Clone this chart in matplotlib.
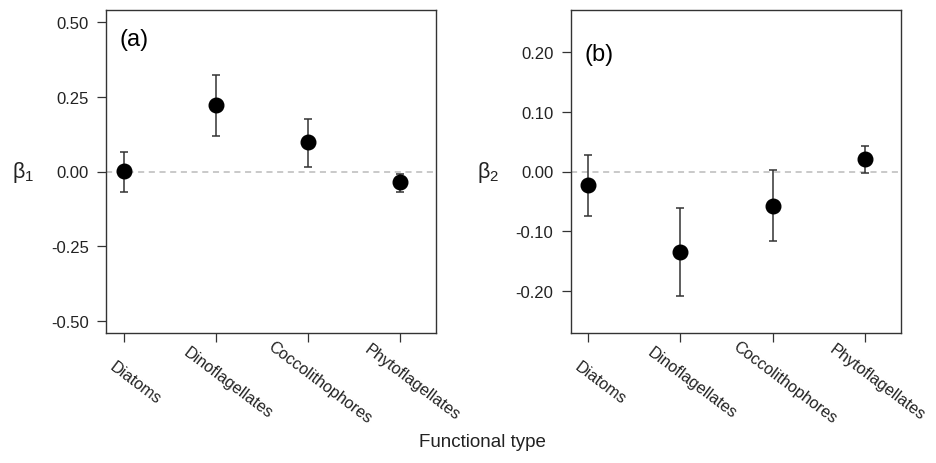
import matplotlib
matplotlib.use("Agg")
import matplotlib.pyplot as plt
import matplotlib.transforms as mtransforms

plt.rcParams['font.family'] = ['Liberation Sans', 'DejaVu Sans']
plt.rcParams['mathtext.fontset'] = 'custom'
plt.rcParams['mathtext.rm'] = 'Liberation Sans'
plt.rcParams['mathtext.it'] = 'Liberation Sans'

# Data
types = ["Diatoms", "Dinoflagellates", "Coccolithophores", "Phytoflagellates"]

beta1 = [0.001, 0.222, 0.097, -0.034]
beta1_low = [-0.070, 0.119, 0.015, -0.070]
beta1_high = [0.066, 0.323, 0.177, -0.010]

beta2 = [-0.023, -0.134, -0.057, 0.021]
beta2_low = [-0.075, -0.208, -0.117, -0.003]
beta2_high = [0.028, -0.061, 0.002, 0.042]

y1_ticks = [-0.50, -0.25, 0.00, 0.25, 0.50]
y2_ticks = [-0.20, -0.10, 0.00, 0.10, 0.20]

edge = '#333333'


def draw_panel(ax, est, low, high, yticks, ylim, ylab, tag, tag_y):
    x = list(range(1, len(types) + 1))
    ax.axhline(0, color='#bbbbbb', lw=1.1, ls=(0, (4, 3)), zorder=1)
    yerr = [[e - l for e, l in zip(est, low)], [h - e for e, h in zip(est, high)]]
    ax.errorbar(x, est, yerr=yerr, fmt='o', color='black', ms=10.5,
                ecolor=edge, elinewidth=1.1, capsize=3, capthick=1.1, zorder=3)
    ax.set_xlim(0.81, 4.39)
    ax.set_ylim(*ylim)
    ax.set_yticks(yticks)
    ax.set_yticklabels([f"{v:.2f}" for v in yticks], fontsize=12, color='#222222')
    ax.set_xticks(x)
    ax.set_xticklabels([])
    ax.tick_params(axis='both', direction='out', length=6.5, width=0.9, color=edge, pad=6)
    for s in ax.spines.values():
        s.set_color(edge)
        s.set_linewidth(1.0)
    # rotated category labels
    tr = mtransforms.offset_copy(ax.get_xaxis_transform(), fig=ax.figure, x=12, y=0, units='dots')
    for xi, name in zip(x, types):
        ax.text(xi, -0.152, name, transform=tr, rotation=-37, rotation_mode='anchor',
                ha='center', va='center', fontsize=11.7, color='#222222')
    # y label (beta)
    btr = mtransforms.blended_transform_factory(ax.transAxes, ax.transData)
    ax.text(-0.251, 0, ylab, transform=btr, ha='center', va='center', fontsize=15.5, color='#222222')
    ax.text(0.042, tag_y, tag, transform=ax.transAxes, ha='left', va='center', fontsize=17)


fig = plt.figure(figsize=(9.37, 4.64), dpi=100)
ax1 = fig.add_axes([106 / 937, 130 / 464, 330 / 937, 323 / 464])
ax2 = fig.add_axes([570.7 / 937, 130 / 464, 330 / 937, 323 / 464])

draw_panel(ax1, beta1, beta1_low, beta1_high, y1_ticks, (-0.54, 0.54), r'$\beta_1$', '(a)', 0.91)
draw_panel(ax2, beta2, beta2_low, beta2_high, y2_ticks, (-0.2704, 0.2704), r'$\beta_2$', '(b)', 0.864)

fig.text(482 / 937, 1 - 443 / 464, "Functional type", ha='center', va='center', fontsize=13.5, color='#222222')

fig.savefig("out.png", dpi=100)
